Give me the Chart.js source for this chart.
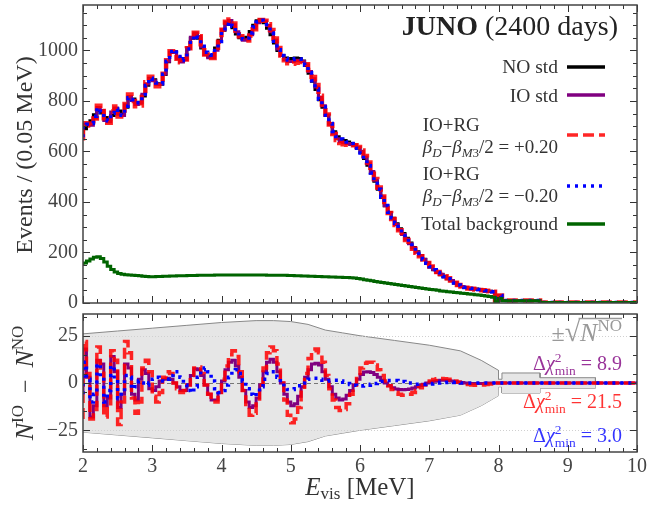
<!DOCTYPE html>
<html>
<head>
<meta charset="utf-8">
<script src="https://cdn.jsdelivr.net/npm/chart.js@4.4.1/dist/chart.umd.min.js"></script>
<style>
  html, body { margin: 0; padding: 0; background: #fff; }
  #wrap { position: relative; width: 649px; height: 508px; }
  canvas { position: absolute; left: 0; }
  #top { top: 0; }
  #bot { top: 306px; }
</style>
</head>
<body>
<div id="wrap">
  <canvas id="top" width="649" height="310"></canvas>
  <canvas id="bot" width="649" height="202"></canvas>
</div>
<script>
// ---- data (events per bin, 0.05 MeV bins from 2.00 to 8.00, then 4 wide tail bins)
const BIN_W = 0.05;
const TAIL_EDGES = [8.05, 8.6, 9.4, 10];
const EDGES = [...Array(121).keys()].map(i => +(2 + i * BIN_W).toFixed(2)).concat(TAIL_EDGES);

const NO_STD = [
  662, 690, 706, 722, 745, 762, 752, 735, 726, 742,
  766, 760, 748, 775, 810, 808, 795, 792, 820, 862,
  890, 884, 868, 866, 905, 955, 992, 995, 970, 958,
  968, 1010, 1048, 1062, 1048, 1010, 985, 977, 980, 1010,
  1040, 1080, 1105, 1108, 1090, 1065, 1050, 1044, 1052, 1075,
  1100, 1118, 1122, 1110, 1088, 1062, 1030, 1000, 980, 970,
  966, 968, 970, 968, 958, 940, 910, 878, 845, 805,
  775, 742, 710, 678, 658, 648, 643, 638, 632, 626,
  614, 596, 572, 545, 515, 482, 450, 418, 385, 358,
  336, 314, 294, 275, 256, 238, 220, 203, 188, 173,
  158, 144, 132, 121, 112, 104, 96, 88, 79, 71,
  65, 61, 58, 57, 55, 53, 51, 49, 47, 45,
  10, 30, 10, 2,
];

const BKG = [
  150, 158, 166, 174, 181, 183, 176, 162, 146, 133,
  123, 117, 114, 112, 111, 110, 109, 108, 106, 105,
  104, 104, 105, 105, 106, 106, 107, 107, 108, 108,
  108, 109, 109, 109, 110, 110, 110, 110, 110, 111,
  111, 111, 111, 111, 111, 111, 111, 111, 111, 111,
  111, 111, 111, 111, 110, 110, 110, 110, 110, 110,
  109, 109, 108, 108, 107, 107, 106, 106, 105, 105,
  104, 104, 103, 103, 102, 102, 101, 101, 100, 99,
  97, 95, 92, 90, 88, 85, 83, 81, 79, 77,
  75, 73, 71, 69, 67, 65, 63, 61, 59, 57,
  55, 53, 52, 50, 48, 47, 45, 44, 42, 41,
  39, 38, 36, 35, 33, 32, 30, 28, 26, 23,
  5, 18, 9, 2,
];

// N_IO - N_NO per bin (lower panel)
const D_IO = [
  -5, 18, 3, -18, -12, 12, 10, -12, -8, 14,
  6, -13, -6, 10, 8, -6, -9, 2, 7, 5,
  -3, -4, -2, 1, 2, 2.5, 2, 0, -2, -4,
  -4, -1, 4, 7.5, 7, 4, -1, -6, -9, -9,
  -5, 1, 7, 11, 12, 9, 3, -4, -10, -13,
  -12, -8, -1, 6, 11, 12.5, 11, 6, 0, -6,
  -10, -12, -11, -7, -2, 3, 7, 10, 10.5, 9.5,
  6, 2, -2, -6, -8, -9, -8.5, -6.5, -4, -1,
  2, 4.5, 5.8, 6, 5.5, 4.5, 3, 1.5, 0, -1.5,
  -2.5, -3.2, -3.5, -3.6, -3.5, -3.2, -2.6, -2, -1.3, -0.6,
  0, 0.5, 0.9, 1.2, 1.4, 1.4, 1.3, 1.1, 0.8, 0.5,
  0.2, 0, -0.2, -0.3, -0.3, -0.3, -0.2, -0.1, 0, 0,
  0, 0, 0, 0,
];
const D_RG_P = [
  -19, 22, 5, -19, -14, 19, 8, -18, -12, 17,
  12, -22, -10, 22, 16, -8, -16, -10, 8, 12,
  6, -7, -10, -5, 3, 6, 5, 0, -3, -5,
  -4, -1, 4, 8, 8.5, 5, -1, -6, -10, -10,
  -6, 2, 9, 15, 17, 14, 6, -4, -13, -17,
  -16, -10, -1, 8, 16, 19, 17, 10, 0, -9,
  -17, -21, -19, -13, -4, 5, 13, 17, 18, 16,
  11, 4, -3, -9, -13, -14.5, -14, -11, -6, -1,
  4, 8, 10.5, 11, 11, 9.5, 7, 4, 1, -1.5,
  -3.5, -5, -6, -6.5, -6.5, -6, -5, -4, -2.5, -1,
  0, 1, 1.8, 2.2, 2.4, 2.3, 2, 1.5, 1, 0.4,
  0, -0.5, -0.8, -1, -1.2, -1.2, -1, -0.8, -0.5, -0.3,
  0, 0, 0, 0,
];
const D_RG_M = [
  -6, 11, 2, -10, -6, 10, 3, -10, -4, 9,
  2, -8, -5, 4, 3, -3, -2, 1, 0, -1,
  0, 2, 3, 2, 1, 2, 4, 6, 6, 3,
  -1, -4, -5, -2, 3, 7, 8, 6, 1, -3,
  -5, -4, -1, 3, 6, 7, 5, 1, -3, -6,
  -7, -5, -2, 2, 5, 6, 6, 3, 0, -2,
  -3.5, -3.5, -3, -1.5, 0, 1.5, 2, 2.5, 2.5, 2,
  1.5, 1, 1.2, 1.4, 1.4, 1, 0.4, -0.3, -0.8, -1.2,
  -1.5, -1.6, -1.5, -1.2, -0.7, -0.2, 0.3, 0.8, 1.1, 1.3,
  1.4, 1.3, 1.1, 0.8, 0.4, 0, -0.3, -0.6, -0.7, -0.8,
  -0.7, -0.5, -0.3, 0, 0.2, 0.3, 0.4, 0.4, 0.3, 0.2,
  0, 0, 0, 0, 0, 0, 0, 0, 0, 0,
  0, 0, 0, 0,
];

// half-width of the grey +-sqrt(N_NO) band
const BAND_E = [2.0, 2.5, 3.0, 3.5, 4.0, 4.5, 4.75, 5.0, 5.25, 5.5, 5.75, 6.0, 6.5, 7.0, 7.45, 7.75, 8.0, 8.0, 8.05, 8.05, 8.6, 8.6, 9.4, 9.4, 10.0];
const BAND_W = [26, 27.5, 29, 30.5, 32, 33, 33, 32.5, 31, 28, 26.5, 25, 22.5, 20, 17, 12, 6.7, 2, 2, 5.3, 5.3, 2.8, 2.8, 0, 0];

const X_TICKS = [2, 3, 4, 5, 6, 7, 8, 9, 10];
const X_MINOR = [...Array(41).keys()].map(i => +(2 + i * 0.2).toFixed(1));
const TOP_Y_TICKS = [0, 200, 400, 600, 800, 1000];
const TOP_Y_MINOR = [...Array(24).keys()].map(i => i * 50);
const BOT_Y_TICKS = [-25, 0, 25];
const BOT_Y_MINOR = [-35, -15, -5, 5, 15, 35];

// ---- styling
const FONT = '"Liberation Serif", "Times New Roman", serif';
const f = (size, style = '') => `${style} ${size}px ${FONT}`.trim();
const INK = '#333';
const C_NO = '#000', C_IO = '#800080', C_RP = 'rgba(255,0,0,0.85)', C_RM = '#0000ff', C_BKG = '#006400';

const steps = vals => EDGES.map((e, i) => ({ x: e, y: vals[Math.min(i, vals.length - 1)] }));
const stepLine = (vals, color, width, dash) => ({
  data: steps(vals), borderColor: color, borderWidth: width, borderDash: dash || [],
  pointRadius: 0, stepped: 'after', fill: false,
});

function measure(ctx, segs) {
  let w = 0;
  for (const s of segs) { ctx.font = s[1]; if (!s[3]) w += ctx.measureText(s[0]).width; }
  return w;
}
// draw a run of text pieces: [text, font, dy, noAdvance]
function richText(ctx, segs, x, y, align) {
  const w = measure(ctx, segs);
  let cx = align === 'right' ? x - w : align === 'center' ? x - w / 2 : x;
  for (const s of segs) {
    ctx.font = s[1];
    ctx.fillText(s[0], cx, y + (s[2] || 0));
    if (!s[3]) cx += ctx.measureText(s[0]).width;
  }
  return cx;
}

// inward ticks on all four sides + frame (matplotlib look)
const frameTicks = {
  id: 'frameTicks',
  afterDraw(chart, args, o) {
    const { ctx, chartArea: a, scales: { x, y } } = chart;
    ctx.save();
    ctx.strokeStyle = INK; ctx.lineWidth = 1;
    const mark = (axis, vals, len) => vals.forEach(v => {
      const p = Math.round(axis.getPixelForValue(v)) + 0.5;
      ctx.beginPath();
      if (axis === x) {
        ctx.moveTo(p, a.bottom); ctx.lineTo(p, a.bottom - len);
        ctx.moveTo(p, a.top); ctx.lineTo(p, a.top + len);
      } else {
        ctx.moveTo(a.left, p); ctx.lineTo(a.left + len, p);
        ctx.moveTo(a.right, p); ctx.lineTo(a.right - len, p);
      }
      ctx.stroke();
    });
    mark(x, X_MINOR, 4); mark(x, X_TICKS, 7);
    mark(y, o.minor, 4); mark(y, o.major, 7);
    ctx.strokeStyle = '#444'; ctx.lineWidth = 1.5;
    ctx.strokeRect(a.left, a.top, a.right - a.left, a.bottom - a.top);
    ctx.restore();
  },
};

const tickFont = { family: FONT, size: 20 };
const fmt = v => String(v).replace('-', '\u2212');

// ---- upper panel: spectra
const topDecor = {
  id: 'topDecor',
  afterDraw(chart) {
    const ctx = chart.ctx;
    ctx.save();
    ctx.fillStyle = '#222'; ctx.textBaseline = 'alphabetic';
    richText(ctx, [['JUNO', f(28, 'bold')], [' (2400 days)', f(28)]], 618, 35, 'right');

    ctx.fillStyle = INK;
    const tx = 558, x0 = 567, x1 = 605;
    const sample = (y, color, w, dash) => {
      ctx.save(); ctx.strokeStyle = color; ctx.lineWidth = w; ctx.setLineDash(dash);
      ctx.beginPath(); ctx.moveTo(x0, y); ctx.lineTo(x1, y); ctx.stroke(); ctx.restore();
    };
    const beta = sign => [['\u03b2', f(19, 'italic')], ['D', f(13, 'italic'), 4], ['\u2212', f(19)],
      ['\u03b2', f(19, 'italic')], ['M', f(13, 'italic'), 4], ['3', f(13), 4], ['/2 = ' + sign + '0.20', f(19)]];
    richText(ctx, [['NO std', f(19.5)]], tx, 73, 'right'); sample(67, C_NO, 3.5, []);
    richText(ctx, [['IO std', f(19.5)]], tx, 101.5, 'right'); sample(95, C_IO, 3.5, []);
    richText(ctx, beta('+'), tx, 153, 'right');
    ctx.font = f(19.5); ctx.fillText('IO+RG', tx - measure(ctx, beta('+')), 131);
    sample(135, C_RP, 3.5, [11, 5]);
    richText(ctx, beta('\u2212'), tx, 201.5, 'right');
    ctx.font = f(19.5); ctx.fillText('IO+RG', tx - measure(ctx, beta('\u2212')), 180);
    sample(186, C_RM, 3.5, [3, 5]);
    richText(ctx, [['Total background', f(19.5)]], tx, 230, 'right'); sample(224, C_BKG, 3.5, []);

    // y title
    ctx.translate(32, 155); ctx.rotate(-Math.PI / 2);
    ctx.font = f(24); ctx.textAlign = 'center';
    ctx.fillText('Events / (0.05 MeV)', 0, 0);
    ctx.restore();
  },
};

// upper-panel curves: the IO variants are NO plus the differences read in the lower panel
const IO_TOP = NO_STD.map((v, i) => v + D_IO[i]);
const RGP_TOP = NO_STD.map((v, i) => v + D_RG_P[i]);
const RGM_TOP = NO_STD.map((v, i) => v + D_RG_M[i]);

new Chart(document.getElementById('top'), {
  type: 'line',
  data: {
    datasets: [
      stepLine(BKG, C_BKG, 3),
      stepLine(RGM_TOP, C_RM, 3.5, [3, 5]),
      stepLine(RGP_TOP, C_RP, 4.5, [11, 5]),
      stepLine(IO_TOP, C_IO, 3),
      stepLine(NO_STD, C_NO, 3),
    ],
  },
  options: {
    responsive: false, animation: false,
    layout: { padding: { left: 0, right: 12, top: 5, bottom: 7 } },
    plugins: { legend: { display: false }, tooltip: { enabled: false }, frameTicks: { major: TOP_Y_TICKS, minor: TOP_Y_MINOR } },
    scales: {
      x: {
        type: 'linear', min: 2, max: 10,
        ticks: { display: false }, grid: { display: false }, border: { display: false },
        afterFit: s => { s.height = 0; s.paddingLeft = 0; s.paddingRight = 0; },
      },
      y: {
        min: 0, max: 1180,
        ticks: { font: tickFont, color: '#444', padding: 5, callback: fmt },
        grid: { display: false, drawTicks: false }, border: { display: false },
        afterBuildTicks: s => { s.ticks = TOP_Y_TICKS.map(v => ({ value: v })); },
        afterFit: s => { s.width = 83; s.paddingTop = 0; s.paddingBottom = 0; },
      },
    },
  },
  plugins: [frameTicks, topDecor],
});

// ---- lower panel: differences to NO
const BAND_UP = BAND_E.map((e, i) => ({ x: e, y: BAND_W[i] }));
const BAND_LO = BAND_E.map((e, i) => ({ x: e, y: -BAND_W[i] }));

const refLines = {
  id: 'refLines',
  afterDatasetDraw(chart, args) {
    if (args.index !== 3) return;
    const { ctx, chartArea: a, scales: { y } } = chart;
    ctx.save();
    const hl = (v, color, dash, w) => {
      const p = Math.round(y.getPixelForValue(v)) + 0.5;
      ctx.strokeStyle = color; ctx.setLineDash(dash); ctx.lineWidth = w;
      ctx.beginPath(); ctx.moveTo(a.left, p); ctx.lineTo(a.right, p); ctx.stroke();
    };
    hl(25, '#d0d0d0', [1, 2], 1); hl(-25, '#d0d0d0', [1, 2], 1);
    hl(0, '#777', [4, 3], 1);
    ctx.restore();
  },
};

const botDecor = {
  id: 'botDecor',
  afterDraw(chart) {
    const ctx = chart.ctx;
    ctx.save();
    ctx.textBaseline = 'alphabetic';
    // +-sqrt(N_NO) label with the radical's overbar
    ctx.fillStyle = '#999'; ctx.strokeStyle = '#999';
    const lab = [['\u00b1', f(24)], ['\u221a', f(28)], ['N', f(26, 'italic')], ['NO', f(17), -10]];
    const xs = 622 - measure(ctx, lab);
    richText(ctx, lab, 622, 35, 'right');
    const rx = xs + measure(ctx, lab.slice(0, 2));
    ctx.lineWidth = 1.3; ctx.beginPath(); ctx.moveTo(rx - 1.5, 12.5); ctx.lineTo(622, 12.5); ctx.stroke();

    const chi = (val, color, y) => {
      ctx.fillStyle = color;
      richText(ctx, [['\u0394', f(20)], ['\u03c7', f(20, 'italic')], ['2', f(13.5), -8, true], ['min', f(13.5), 5], [' = ' + val, f(20)]], 622, y, 'right');
    };
    chi('8.9', 'rgba(128,0,128,0.8)', 64);
    chi('21.5', 'rgba(255,0,0,0.8)', 102);
    chi('3.0', 'rgba(0,0,255,0.8)', 136);

    // axis titles
    ctx.fillStyle = INK;
    richText(ctx, [['E', f(25, 'italic')], ['vis', f(17), 4], [' [MeV]', f(25)]], 360, 189, 'center');
    ctx.translate(33, 77); ctx.rotate(-Math.PI / 2);
    richText(ctx, [['N', f(26, 'italic')], ['IO', f(17), -10], ['  \u2212  ', f(24)], ['N', f(26, 'italic')], ['NO', f(17), -10]], 0, 0, 'center');
    ctx.restore();
  },
};

new Chart(document.getElementById('bot'), {
  type: 'line',
  data: {
    datasets: [
      stepLine(D_RG_M, C_RM, 3.5, [3, 5]),
      stepLine(D_RG_P, C_RP, 3.5, [11, 5]),
      stepLine(D_IO, C_IO, 3),
      { data: BAND_UP, borderColor: '#888', borderWidth: 1, pointRadius: 0, fill: '+1', backgroundColor: '#e6e6e6' },
      { data: BAND_LO, borderColor: '#888', borderWidth: 1, pointRadius: 0, fill: false },
    ],
  },
  options: {
    responsive: false, animation: false,
    layout: { padding: { left: 0, right: 12, top: 8, bottom: 0 } },
    plugins: { legend: { display: false }, tooltip: { enabled: false }, frameTicks: { major: BOT_Y_TICKS, minor: BOT_Y_MINOR } },
    scales: {
      x: {
        type: 'linear', min: 2, max: 10,
        ticks: { font: tickFont, color: '#444', padding: 3, maxRotation: 0, autoSkip: false, callback: fmt },
        grid: { display: false, drawTicks: false }, border: { display: false },
        afterBuildTicks: s => { s.ticks = X_TICKS.map(v => ({ value: v })); },
        afterFit: s => { s.height = 56; s.paddingLeft = 0; s.paddingRight = 0; },
      },
      y: {
        min: -36.5, max: 36.5,
        ticks: { font: tickFont, color: '#444', padding: 5, callback: fmt },
        grid: { display: false, drawTicks: false }, border: { display: false },
        afterBuildTicks: s => { s.ticks = BOT_Y_TICKS.map(v => ({ value: v })); },
        afterFit: s => { s.width = 83; s.paddingTop = 0; s.paddingBottom = 0; },
      },
    },
  },
  plugins: [refLines, frameTicks, botDecor],
});
</script>
</body>
</html>
